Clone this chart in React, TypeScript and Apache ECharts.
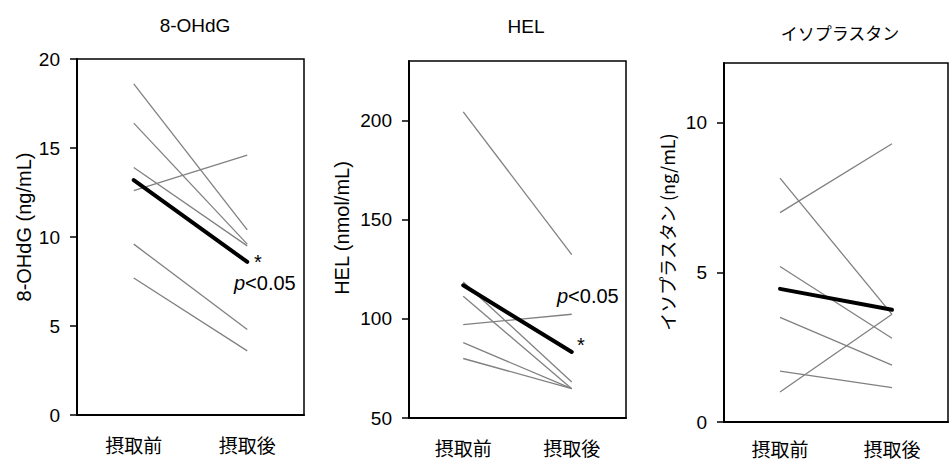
import React, { useEffect, useRef } from "react";
import * as echarts from "echarts";

// Timepoints on every panel
const categories = ["摂取前", "摂取後"];

// 8-OHdG (ng/mL): individual subjects and group mean
const ohdgPre = [18.6, 16.4, 13.9, 12.6, 9.6, 7.7];
const ohdgPost = [10.4, 9.6, 9.5, 14.6, 4.8, 3.6];
const ohdgMean = [13.2, 8.6];

// HEL (nmol/mL)
const helPre = [204.3, 118.6, 111.4, 97.1, 88.0, 80.0];
const helPost = [132.4, 68.2, 64.8, 102.3, 64.8, 64.8];
const helMean = [116.9, 83.3];

// イソプラスタン (ng/mL)
const isoPre = [7.0, 8.15, 5.2, 3.5, 1.7, 1.0];
const isoPost = [9.3, 3.6, 2.8, 1.9, 1.15, 3.6];
const isoMean = [4.45, 3.75];

// Axis tick values
const ohdgTicks = [0, 5, 10, 15, 20];
const helTicks = [50, 100, 150, 200];
const isoTicks = [0, 5, 10];

const panelTitles = ["8-OHdG", "HEL", "イソプラスタン"];
const axisNames = ["8-OHdG (ng/mL)", "HEL (nmol/mL)", "イソプラスタン (ng/mL)"];
const sigLabel = "p<0.05";
const sigMark = "*";

const LATIN = "'Liberation Sans', Arial, 'Noto Sans CJK JP', sans-serif";
const CJK = "'Noto Sans CJK JP', 'Liberation Sans', sans-serif";

export default function App() {
  const ref = useRef<HTMLDivElement>(null);

  useEffect(() => {
    if (!ref.current) return;
    const chart = echarts.init(ref.current, undefined, { renderer: "svg" });

    const panels = [
      { pre: ohdgPre, post: ohdgPost, mean: ohdgMean, min: 0, max: 20, interval: 5, ticks: ohdgTicks, labelMargin: 20 },
      { pre: helPre, post: helPost, mean: helMean, min: 50, max: 230, interval: 50, ticks: helTicks, labelMargin: 20 },
      { pre: isoPre, post: isoPost, mean: isoMean, min: 0, max: 12, interval: 5, ticks: isoTicks, labelMargin: 17 },
    ];

    const grids = [
      { left: 77, top: 59, width: 227, height: 356 },
      { left: 409, top: 61, width: 217, height: 357 },
      { left: 724, top: 63, width: 224, height: 359 },
    ].map((g) => ({
      ...g,
      show: true,
      borderColor: "#000",
      borderWidth: 1.5,
      backgroundColor: "transparent",
    }));

    const xAxis = panels.map((p, i) => ({
      type: "category",
      gridIndex: i,
      data: categories,
      boundaryGap: true,
      axisTick: { show: false },
      axisLine: { onZero: false, lineStyle: { color: "#000", width: 2 } },
      axisLabel: {
        color: "#000",
        fontSize: 19,
        lineHeight: 19,
        margin: p.labelMargin,
        fontFamily: CJK,
      },
      splitLine: { show: false },
    }));

    const yAxis = panels.map((p, i) => ({
      type: "value",
      gridIndex: i,
      min: p.min,
      max: p.max,
      interval: p.interval,
      axisLine: { show: true, onZero: false, lineStyle: { color: "#000", width: 2 } },
      axisTick: {
        show: true,
        length: 7,
        customValues: p.ticks,
        lineStyle: { color: "#000", width: 1.5 },
      },
      axisLabel: {
        customValues: p.ticks,
        margin: 17,
        fontSize: 19,
        color: "#000",
        fontFamily: LATIN,
      },
      splitLine: { show: false },
    }));

    const series: any[] = [];
    panels.forEach((p, i) => {
      p.pre.forEach((v, j) => {
        series.push({
          type: "line",
          xAxisIndex: i,
          yAxisIndex: i,
          data: [v, p.post[j]],
          symbol: "none",
          silent: true,
          lineStyle: { color: "#808080", width: 1.3 },
          z: 2,
        });
      });
      series.push({
        type: "line",
        xAxisIndex: i,
        yAxisIndex: i,
        data: p.mean,
        symbol: "none",
        silent: true,
        lineStyle: { color: "#000", width: 4, cap: "round" },
        z: 3,
      });
    });

    const txt = (
      text: string,
      x: number,
      y: number,
      fontSize: number,
      fontFamily: string,
      align = "center",
      rotation = 0,
      extra: any = {}
    ) => ({
      type: "text",
      x,
      y,
      rotation,
      silent: true,
      style: {
        text,
        fill: "#000",
        fontSize,
        fontFamily,
        align,
        verticalAlign: "middle",
        textAlign: align,
        textVerticalAlign: "middle",
        ...extra,
      },
    });

    const italicRich = {
      rich: {
        i: { fontStyle: "italic", fontSize: 20, fontFamily: LATIN, fill: "#000" },
      },
    };
    const sigText = sigLabel.replace(/^p/, "{i|p}");

    const graphic = [
      txt(panelTitles[0], 195, 25, 19, LATIN),
      txt(panelTitles[1], 526, 26, 19, LATIN),
      txt(panelTitles[2], 840, 32, 17, CJK),
      txt(axisNames[0], 24, 227, 20, LATIN, "center", Math.PI / 2),
      txt(axisNames[1], 342, 228, 20, LATIN, "center", Math.PI / 2),
      txt(axisNames[2], 667, 232, 18, CJK, "center", Math.PI / 2),
      txt(sigText, 234, 283, 20, LATIN, "left", 0, italicRich),
      txt(sigText, 557, 296, 20, LATIN, "left", 0, italicRich),
      txt(sigMark, 258, 262, 20, LATIN),
      txt(sigMark, 581, 345, 20, LATIN),
    ];

    chart.setOption({
      animation: false,
      grid: grids,
      xAxis,
      yAxis,
      series,
      graphic,
    });

    return () => chart.dispose();
  }, []);

  return (
    <div
      ref={ref}
      style={{ position: "fixed", left: 0, top: 0, width: 949, height: 462, background: "#fff" }}
    />
  );
}
